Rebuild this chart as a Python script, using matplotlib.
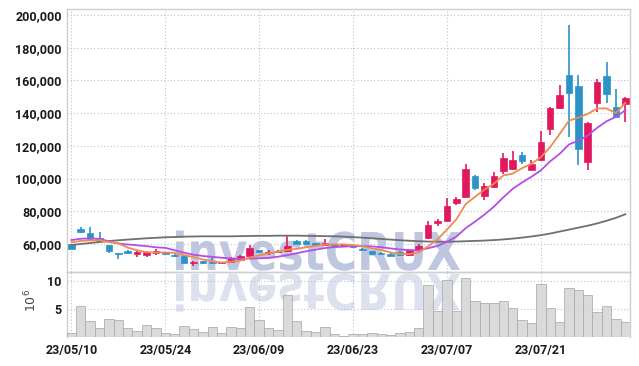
import numpy as np
import matplotlib
matplotlib.use("Agg")
import matplotlib.pyplot as plt
from matplotlib.ticker import FuncFormatter
from matplotlib.textpath import TextPath
from matplotlib.font_manager import FontProperties
from matplotlib.patches import PathPatch
from matplotlib.transforms import Affine2D

# daily OHLC (KRW), 60 trading days from 23/05/10
opens = [59800, 69200, 66500, 63900, 59400, 54300, 55700, 53700, 53500, 54800,
         55100, 53300, 52700, 48200, 49500, 49000, 48100, 48800, 50200, 52500,
         56300, 54300, 55400, 55900, 61800, 61800, 60400, 59400, 60000, 59000,
         59200, 57100, 55700, 54700, 54100, 54900, 53100, 56300, 63500, 73000,
         74300, 85300, 88900, 101600, 89400, 95000, 104800, 105900, 114400, 105300,
         111400, 130200, 143000, 163400, 156600, 110300, 146400, 162700, 143600, 145600]
highs = [60300, 70600, 70600, 67100, 59600, 54600, 56300, 55500, 55500, 56800,
         55300, 53600, 52900, 49400, 49700, 51200, 49000, 52000, 53100, 59400,
         56500, 56300, 56600, 64900, 62300, 62300, 60800, 62900, 60200, 60200,
         59400, 57300, 55900, 54900, 54300, 56000, 56300, 60000, 74100, 75400,
         88000, 88500, 108900, 102000, 97500, 103900, 115500, 116900, 116500, 111400,
         129300, 144000, 157200, 193900, 163400, 134500, 160700, 171100, 154600, 150000]
lows = [56800, 66500, 62000, 61400, 54300, 50800, 54000, 52200, 52200, 53500,
        53700, 52300, 48300, 46700, 48000, 47600, 48000, 48500, 50000, 52200,
        54700, 53500, 55000, 55300, 59800, 59800, 59200, 59100, 58800, 58800,
        57800, 55900, 53400, 53500, 52400, 52600, 52900, 56000, 63200, 71000,
        74000, 84000, 88600, 93000, 87200, 94500, 103000, 105500, 109000, 105000,
        111000, 126700, 142500, 125600, 108300, 105300, 140900, 146400, 137500, 134800]
closes = [57100, 67500, 63300, 61600, 56000, 53800, 54300, 55300, 55300, 55500,
          53900, 52700, 48600, 49200, 48200, 48300, 48900, 51200, 52700, 57400,
          54900, 55300, 56000, 58800, 60000, 60000, 59400, 60400, 59000, 60000,
          58000, 56100, 53700, 53700, 52700, 53300, 56100, 59000, 71600, 74100,
          83200, 87300, 105900, 94100, 95500, 101600, 112400, 111400, 110800, 108900,
          122200, 143000, 151100, 152200, 117900, 133800, 159300, 151500, 137900, 149100]

# volume in millions of shares
volume = [0.83, 5.5, 2.9, 1.6, 3.2, 3.06, 1.6, 1.1, 2.2, 1.6,
          0.8, 0.6, 2.0, 1.5, 0.95, 1.8, 0.75, 1.8, 1.65, 5.35,
          3.06, 1.65, 1.3, 7.5, 2.9, 1.1, 0.9, 1.77, 0.6, 0.3,
          0.6, 0.6, 0.77, 0.6, 0.4, 0.77, 0.95, 1.6, 9.25, 4.65,
          10.1, 4.65, 10.4, 6.4, 6.06, 6.06, 6.4, 5.1, 3.06, 2.47,
          9.5, 5.1, 2.65, 8.65, 8.35, 7.5, 4.4, 5.5, 3.2, 2.7]

# moving averages as shown on the chart
ma5 = [61000, 61900, 62200, 62300, 61100, 60440, 57800, 56200, 54940, 54840,
       54860, 54540, 53200, 51980, 50520, 49400, 48640, 49160, 49860, 51700,
       53020, 54300, 55260, 56480, 57000, 58020, 58840, 59720, 59760, 59760,
       59360, 58700, 57360, 56300, 54840, 53900, 53900, 54960, 58540, 62820,
       68800, 75040, 84420, 88920, 93200, 96880, 101900, 103000, 106340, 109020,
       113140, 119260, 127200, 135480, 137280, 139600, 142860, 142940, 140080, 146300]
ma10 = [62400, 63200, 63400, 63200, 61600, 60300, 59700, 59200, 58700, 57970,
        57650, 56170, 54700, 53460, 52680, 52130, 51590, 51180, 50920, 51110,
        51210, 51470, 52210, 53170, 54350, 55520, 56570, 57490, 58120, 58380,
        58690, 58770, 58540, 58030, 57300, 56630, 56300, 56160, 57420, 58830,
        61350, 64470, 69690, 73730, 78010, 82840, 88470, 93710, 97630, 101110,
        105010, 110580, 115100, 120910, 123150, 126370, 131060, 135070, 137780, 141800]
ma60 = [59400, 60000, 60600, 61200, 61800, 62300, 62700, 63100, 63500, 63800,
        64100, 64300, 64500, 64600, 64700, 64700, 64700, 64700, 64800, 64900,
        65000, 65000, 65100, 65100, 65100, 65000, 64900, 64800, 64700, 64500,
        64200, 63900, 63500, 63100, 62700, 62300, 62000, 61700, 61500, 61400,
        61400, 61500, 61700, 61900, 62100, 62400, 62800, 63300, 63900, 64600,
        65400, 66400, 67600, 68800, 70000, 71200, 72600, 74200, 76000, 78200]

tick_idx = [0, 10, 20, 30, 40, 50]
tick_labels = ["23/05/10", "23/05/24", "23/06/09", "23/06/23", "23/07/07", "23/07/21"]

W, H = 639, 366
UP, DOWN = "#e2185e", "#2b93c7"
GRID = "#b9c3d6"
SPINE = "#cfcfcf"
FONT = ["Roboto", "DejaVu Sans"]

fig = plt.figure(figsize=(W / 100, H / 100), dpi=100)
fig.patch.set_facecolor("white")
ax = fig.add_axes([66.7 / W, (H - 272) / H, 563.3 / W, 263 / H])
axv = fig.add_axes([66.7 / W, (H - 337.3) / H, 563.3 / W, 65.3 / H], sharex=ax)
for a in (ax, axv):
    a.set_facecolor("none")
    for s in a.spines.values():
        s.set_color(SPINE)
        s.set_linewidth(1.0)
    a.tick_params(length=0, labelsize=9, colors="#1a1a1a")
    a.grid(True, linestyle=(0, (1, 2)), color=GRID, linewidth=0.8)
    a.set_axisbelow(True)
axv.spines["bottom"].set_visible(False)

# watermark and its reflection, drawn behind both panels
prop = FontProperties(family="DejaVu Sans", weight="bold")
tp = TextPath((0, 0), "investCRUX", size=1, prop=prop)
ext = tp.get_extents()
sx = 284 / ext.width
sy = 38 / 0.73
to_fig = Affine2D().scale(1 / W, 1 / H) + fig.transFigure
up_tr = Affine2D().translate(-ext.x0, 0).scale(sx, sy).translate(176, H - 270)
dn_tr = Affine2D().translate(-ext.x0, 0).scale(sx, -sy * 0.95).translate(176, H - 274)
fig.patches.append(PathPatch(tp, transform=up_tr + to_fig, facecolor="#bfc6df",
                             edgecolor="none", zorder=-1))
fig.patches.append(PathPatch(tp, transform=dn_tr + to_fig, facecolor="#dde1ee",
                             edgecolor="none", zorder=-1))

x = np.arange(len(closes))
o = np.array(opens)
c = np.array(closes)
colors = [UP if cc >= oo else DOWN for oo, cc in zip(o, c)]

ax.vlines(x, lows, highs, colors=colors, linewidth=1.2, zorder=3)
ax.bar(x, np.abs(c - o), bottom=np.minimum(o, c), width=0.7, color=colors,
       edgecolor=colors, linewidth=0.5, zorder=4)

ax.plot(x, ma60, color="#6f6f6f", linewidth=1.3, zorder=5)
ax.plot(x, ma10, color="#b54ee6", linewidth=1.3, zorder=5)
ax.plot(x, ma5, color="#f08a50", linewidth=1.3, zorder=6)

ax.set_xlim(-0.5, len(closes) - 0.5)
ax.set_ylim(42875, 203730)
ax.set_yticks(np.arange(60000, 200001, 20000))
ax.yaxis.set_major_formatter(FuncFormatter(lambda v, p: f"{v:,.0f}"))
ax.tick_params(axis="x", labelbottom=False)
for lbl in ax.get_yticklabels():
    lbl.set_fontfamily(FONT)
    lbl.set_fontweight("bold")

axv.bar(x, volume, width=1.0, color="#d6d6d6", edgecolor="#a9a9a9",
        linewidth=0.6, alpha=0.9, zorder=3)
axv.set_ylim(0, 11.54)
axv.set_yticks([5, 10])
axv.set_xticks(tick_idx)
axv.set_xticklabels(tick_labels)
axv.tick_params(axis="x", pad=5)
for lbl in axv.get_yticklabels() + axv.get_xticklabels():
    lbl.set_fontfamily(FONT)
    lbl.set_fontweight("bold")
ax.set_xticks(tick_idx)
fig.text(31 / W, (H - 300) / H, r"$10^6$", rotation=90, ha="center", va="center",
         fontsize=9, color="#444444")

fig.savefig("out.png", dpi=100)
